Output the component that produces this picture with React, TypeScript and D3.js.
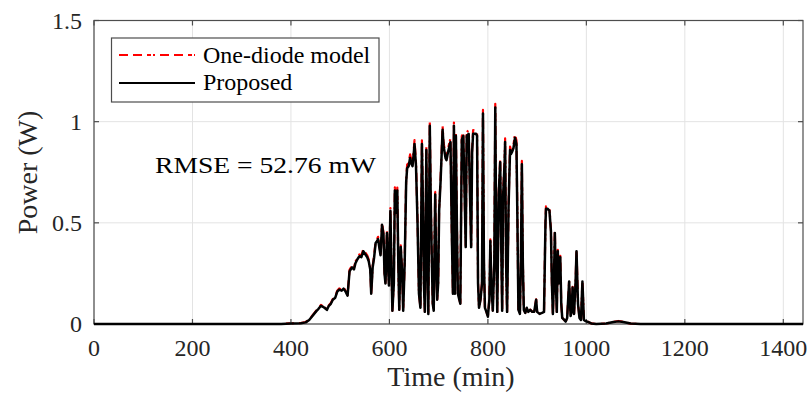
import React from "react";
import * as d3 from "d3";

// Minute of day for each sample
const timeMin = [
  0, 380, 400, 420, 430, 437, 442, 447, 452, 456, 461, 465, 468, 473, 477, 481, 485, 490, 494, 498,
  503, 507, 511, 515, 519, 524, 528, 531, 535, 539, 543, 547, 551, 555, 558, 561, 563, 566, 569, 572,
  575, 577, 580, 582, 585, 588, 590, 592, 595, 597, 599, 602, 604, 606, 609, 611, 614, 616, 618, 620,
  623, 626, 628, 631, 634, 636, 639, 642, 645, 647, 650, 651, 654, 657, 660, 663, 666, 668, 670, 672,
  675, 677, 679, 682, 684, 686, 688, 690, 693, 695, 697, 699, 701, 704, 708, 710, 712, 714, 716, 719,
  722, 724, 727, 729, 731, 733, 735, 737, 739, 742, 744, 747, 750, 753, 755, 757, 761, 764, 766, 768,
  770, 773, 776, 778, 780, 782, 785, 788, 790, 792, 794, 797, 800, 803, 805, 807, 810, 813, 815, 817,
  819, 822, 825, 827, 829, 831, 834, 835, 837, 839, 842, 845, 847, 849, 852, 855, 858, 860, 862, 865,
  867, 869, 871, 873, 876, 879, 882, 886, 890, 894, 898, 900, 905, 910, 914, 917, 918, 921, 925, 928,
  930, 932, 934, 936, 938, 940, 942, 944, 947, 949, 951, 955, 958, 961, 965, 968, 970, 972, 975, 978,
  980, 983, 986, 989, 992, 995, 998, 1002, 1010, 1020, 1040, 1055, 1065, 1075, 1090, 1110, 1440,
];

// Output power of the proposed model (W)
const proposedW = [
  0, 0, 0.003, 0.004, 0.008, 0.02, 0.035, 0.05, 0.065, 0.075, 0.09, 0.085, 0.08, 0.07, 0.09, 0.1, 0.12, 0.13, 0.16, 0.17,
  0.165, 0.175, 0.16, 0.14, 0.26, 0.28, 0.27, 0.3, 0.32, 0.335, 0.33, 0.36, 0.345, 0.33, 0.31, 0.27, 0.15, 0.28, 0.33, 0.4,
  0.41, 0.42, 0.37, 0.34, 0.49, 0.44, 0.25, 0.2, 0.45, 0.3, 0.19, 0.56, 0.3, 0.065, 0.2, 0.66, 0.55, 0.66, 0.3, 0.07,
  0.38, 0.25, 0.066, 0.3, 0.7, 0.77, 0.78, 0.82, 0.79, 0.78, 0.86, 0.89, 0.78, 0.51, 0.15, 0.08, 0.89, 0.6, 0.2, 0.06,
  0.86, 0.3, 0.05, 0.98, 0.6, 0.33, 0.1, 0.065, 0.64, 0.3, 0.12, 0.2, 0.56, 0.71, 0.96, 0.88, 0.85, 0.82, 0.81, 0.85,
  0.88, 0.9, 0.41, 0.15, 0.98, 0.15, 0.93, 0.5, 0.15, 0.12, 0.1, 0.91, 0.93, 0.61, 0.38, 0.93, 0.94, 0.6, 0.38, 0.85,
  0.94, 0.94, 0.94, 0.93, 0.2, 0.08, 0.12, 0.2, 1.04, 0.3, 0.08, 0.06, 0.036, 0.12, 0.41, 0.2, 0.066, 0.3, 1.07, 0.4,
  0.06, 0.64, 0.8, 0.4, 0.065, 0.64, 0.8, 0.9, 0.3, 0.06, 0.58, 0.86, 0.84, 0.85, 0.87, 0.92, 0.89, 0.5, 0.07, 0.05,
  0.3, 0.79, 0.3, 0.07, 0.055, 0.08, 0.06, 0.07, 0.06, 0.06, 0.12, 0.06, 0.05, 0.055, 0.06, 0.5, 0.57, 0.57, 0.56, 0.46,
  0.2, 0.05, 0.2, 0.45, 0.2, 0.06, 0.36, 0.2, 0.33, 0.1, 0.03, 0.02, 0.012, 0.03, 0.21, 0.04, 0.06, 0.18, 0.05, 0.2,
  0.36, 0.1, 0.03, 0.02, 0.21, 0.02, 0.015, 0.012, 0.003, 0, 0.002, 0.01, 0.013, 0.01, 0.002, 0, 0,
];

// Output power of the one-diode model (W)
const diodeW = [
  0, 0, 0.003, 0.005, 0.01, 0.022, 0.037, 0.052, 0.068, 0.078, 0.094, 0.088, 0.083, 0.072, 0.093, 0.104, 0.124, 0.134, 0.165, 0.176,
  0.17, 0.18, 0.164, 0.143, 0.268, 0.288, 0.277, 0.308, 0.329, 0.344, 0.338, 0.37, 0.354, 0.339, 0.318, 0.277, 0.153, 0.287, 0.339, 0.41,
  0.42, 0.431, 0.379, 0.348, 0.502, 0.45, 0.256, 0.204, 0.461, 0.307, 0.194, 0.573, 0.306, 0.066, 0.205, 0.675, 0.562, 0.674, 0.306, 0.071,
  0.389, 0.255, 0.067, 0.307, 0.716, 0.787, 0.797, 0.838, 0.807, 0.797, 0.878, 0.909, 0.797, 0.521, 0.153, 0.081, 0.908, 0.612, 0.204, 0.061,
  0.877, 0.306, 0.051, 0.998, 0.612, 0.337, 0.102, 0.066, 0.653, 0.306, 0.122, 0.204, 0.571, 0.724, 0.978, 0.897, 0.867, 0.836, 0.826, 0.867,
  0.897, 0.918, 0.418, 0.153, 0.996, 0.153, 0.948, 0.51, 0.153, 0.122, 0.102, 0.928, 0.948, 0.622, 0.387, 0.948, 0.958, 0.612, 0.387, 0.867,
  0.958, 0.957, 0.957, 0.947, 0.204, 0.081, 0.122, 0.204, 1.058, 0.306, 0.081, 0.061, 0.037, 0.122, 0.418, 0.204, 0.067, 0.306, 1.088, 0.408,
  0.061, 0.653, 0.816, 0.408, 0.066, 0.653, 0.816, 0.917, 0.306, 0.061, 0.592, 0.877, 0.857, 0.867, 0.887, 0.938, 0.907, 0.51, 0.071, 0.051,
  0.306, 0.806, 0.306, 0.071, 0.056, 0.081, 0.061, 0.071, 0.061, 0.061, 0.122, 0.061, 0.051, 0.056, 0.061, 0.51, 0.582, 0.583, 0.572, 0.47,
  0.204, 0.051, 0.204, 0.459, 0.204, 0.061, 0.367, 0.204, 0.337, 0.102, 0.031, 0.02, 0.012, 0.031, 0.214, 0.041, 0.061, 0.184, 0.051, 0.204,
  0.367, 0.102, 0.031, 0.02, 0.214, 0.02, 0.015, 0.012, 0.003, 0, 0.002, 0.011, 0.015, 0.011, 0.002, 0, 0,
];

const xTicks = [0, 200, 400, 600, 800, 1000, 1200, 1400];
const yTicks = [0, 0.5, 1, 1.5];
const yTickLabels = ["0", "0.5", "1", "1.5"];
const legendLabels = ["One-diode model", "Proposed"];
const rmseLabel = "RMSE = 52.76 mW";

const W = 811;
const H = 399;
const plot = { left: 94, right: 803, top: 20.5, bottom: 324 };
const FONT = "'Liberation Serif', 'DejaVu Serif', serif";
const AXIS = "#4d4d4d";
const GRID = "#e3e3e3";

export default function App() {
  const x = d3.scaleLinear().domain([0, 1440]).range([plot.left, plot.right]);
  const y = d3.scaleLinear().domain([0, 1.5]).range([plot.bottom, plot.top]);

  const line = d3
    .line<number>()
    .x((_, i) => x(timeMin[i]))
    .y((v) => y(v));

  const diodePath = line(diodeW) ?? "";
  const proposedPath = line(proposedW) ?? "";
  const tickLen = 5;
  const dash = "9,5,9,5,4,2,2,5";

  return (
    <div style={{ position: "fixed", left: 0, top: 0 }}>
      <svg width={W} height={H} style={{ display: "block", background: "#fff" }}>
        <rect x={0} y={0} width={W} height={H} fill="#fff" />
        {/* grid */}
        {xTicks.map((t) => (
          <line key={"gx" + t} x1={x(t)} x2={x(t)} y1={plot.top} y2={plot.bottom} stroke={GRID} strokeWidth={1} />
        ))}
        {yTicks.map((t) => (
          <line key={"gy" + t} x1={plot.left} x2={plot.right} y1={y(t)} y2={y(t)} stroke={GRID} strokeWidth={1} />
        ))}
        {/* axes box */}
        <rect
          x={plot.left}
          y={plot.top}
          width={plot.right - plot.left}
          height={plot.bottom - plot.top}
          fill="none"
          stroke={AXIS}
          strokeWidth={1.2}
        />
        {/* inward ticks on all four sides */}
        {xTicks.map((t) => (
          <g key={"tx" + t}>
            <line x1={x(t)} x2={x(t)} y1={plot.bottom} y2={plot.bottom - tickLen} stroke={AXIS} strokeWidth={1.2} />
            <line x1={x(t)} x2={x(t)} y1={plot.top} y2={plot.top + tickLen} stroke={AXIS} strokeWidth={1.2} />
          </g>
        ))}
        {yTicks.map((t) => (
          <g key={"ty" + t}>
            <line x1={plot.left} x2={plot.left + tickLen} y1={y(t)} y2={y(t)} stroke={AXIS} strokeWidth={1.2} />
            <line x1={plot.right} x2={plot.right - tickLen} y1={y(t)} y2={y(t)} stroke={AXIS} strokeWidth={1.2} />
          </g>
        ))}
        {/* series */}
        <path d={diodePath} fill="none" stroke="#ff0000" strokeWidth={2.2} strokeDasharray={dash} strokeLinejoin="round" />
        <path d={proposedPath} fill="none" stroke="#000" strokeWidth={2.5} strokeLinejoin="round" />
        {/* tick labels */}
        {xTicks.map((t) => (
          <text key={"lx" + t} x={x(t)} y={356} textAnchor="middle" fontFamily={FONT} fontSize={24} fill="#262626">
            {t}
          </text>
        ))}
        {yTicks.map((t, i) => (
          <text key={"ly" + t} x={82} y={y(t) + 8} textAnchor="end" fontFamily={FONT} fontSize={24} fill="#262626">
            {yTickLabels[i]}
          </text>
        ))}
        {/* axis titles */}
        <text x={451} y={386} textAnchor="middle" fontFamily={FONT} fontSize={28} fill="#262626">
          Time (min)
        </text>
        <text
          transform={`translate(37, ${172.5}) rotate(-90)`}
          textAnchor="middle"
          fontFamily={FONT}
          fontSize={28}
          fill="#262626"
        >
          Power (W)
        </text>
        {/* annotation */}
        <text x={155} y={173} fontFamily={FONT} fontSize={24} fill="#000" textLength={221} lengthAdjust="spacingAndGlyphs">
          {rmseLabel}
        </text>
        {/* legend */}
        <rect x={111.5} y={38} width={267.5} height={64} fill="#fff" stroke={AXIS} strokeWidth={1.2} />
        <line x1={119} x2={195} y1={55} y2={55} stroke="#ff0000" strokeWidth={2} strokeDasharray={dash} />
        <line x1={119} x2={195} y1={83} y2={83} stroke="#000" strokeWidth={2.2} />
        <text x={203} y={63} fontFamily={FONT} fontSize={24} fill="#000">
          {legendLabels[0]}
        </text>
        <text x={203} y={90} fontFamily={FONT} fontSize={24} fill="#000">
          {legendLabels[1]}
        </text>
      </svg>
    </div>
  );
}
